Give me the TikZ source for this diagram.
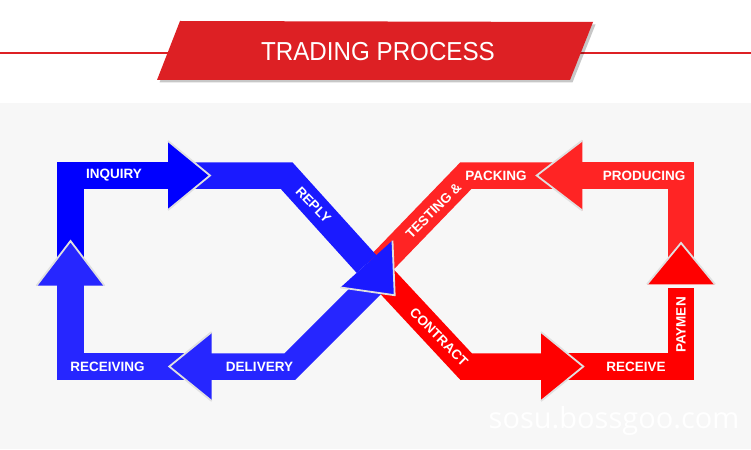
\documentclass[tikz,border=0pt]{standalone}
\usepackage{fontspec}
\setmainfont{Liberation Sans}
\newfontfamily\wmfont{Open Sans}
\usetikzlibrary{calc}
\definecolor{bgray}{RGB}{247,247,247}
\definecolor{titlered}{RGB}{221,32,36}
\definecolor{blueA}{RGB}{0,0,255}
\definecolor{blueB}{RGB}{26,26,255}
\definecolor{blueC}{RGB}{38,38,255}
\definecolor{redA}{RGB}{255,0,0}
\definecolor{redB}{RGB}{255,36,36}
\tikzset{
  band/.style={line width=26.5pt, line join=miter, line cap=butt, draw=#1},
  headedge/.style={draw=white!88!black, line width=1.8pt, line join=miter},
  lbl/.style={text=white, font=\fontsize{13.5}{15}\selectfont\bfseries, inner sep=0pt},
}
\newcommand\myhead[4]{%
  \fill[#4] ($(#1)!#3!90:(#2)$) -- (#2) -- ($(#1)!#3!-90:(#2)$) -- cycle;
  \draw[headedge] ($(#1)!#3!90:(#2)$) -- (#2) -- ($(#1)!#3!-90:(#2)$);
}
\begin{document}
\begin{tikzpicture}[x=1pt,y=-1pt]
\useasboundingbox (0,0) rectangle (751,449);
\fill[white] (0,0) rectangle (751,103);
\fill[bgray] (0,103) rectangle (751,449);
% title
\draw[titlered, line width=2pt] (0,52.7) -- (751,52.7);
\fill[black,opacity=0.22] (182.5,23.5) -- (595.5,24.5) -- (572.5,82.5) -- (159.5,82.5) -- cycle;
\fill[titlered] (180,21) -- (593,22) -- (570,80) -- (157,80) -- cycle;
\node[text=white, font=\fontsize{26}{30}\selectfont, anchor=base, inner sep=0pt] (title) at (378,61) {\scalebox{0.93}[1]{TRADING PROCESS}};
% key points
\coordinate (cRep) at (366.5,264);
\coordinate (tRep) at (394.7,295.2);
\coordinate (bInq) at (168,175.5);
\coordinate (tInq) at (210,175.5);
\coordinate (bDel) at (211.7,366.5);
\coordinate (tDel) at (169.3,366.5);
\coordinate (bRcv) at (70.5,285.7);
\coordinate (tRcv) at (70.5,241);
\coordinate (bPro) at (582.3,175.5);
\coordinate (tPro) at (536.7,175.5);
\coordinate (bPay) at (681,284.3);
\coordinate (tPay) at (681,243);
\coordinate (bCon) at (541,366.5);
\coordinate (tCon) at (583.3,366.5);
% red bands
\draw[band=redB] (558,175.5) -- (466,175.5) -- (375.7,269);
\draw[band=redA] (377.3,271.2) -- (466,366.5) -- (545,366.5);
\draw[band=redA] (562,366.5) -- (681,366.5) -- (681,288);
\draw[band=redB] (681,265) -- (681,175.5) -- (578,175.5);
% blue bands
\draw[band=blueA] (70.5,268) -- (70.5,175.5) -- (172,175.5);
\draw[band=blueB] (188,175.5) -- (286.5,175.5) -- (cRep);
\draw[band=blueC] (376.5,280) -- (290,366.5) -- (208,366.5);
\draw[band=blueC] (190,366.5) -- (70.5,366.5) -- (70.5,282);
% heads
\myhead{bRcv}{tRcv}{34pt}{blueC}
\myhead{bInq}{tInq}{34.5pt}{blueA}
\myhead{bDel}{tDel}{34.5pt}{blueC}
\myhead{bPro}{tPro}{35pt}{redB}
\myhead{bPay}{tPay}{34pt}{redA}
\myhead{bCon}{tCon}{34.5pt}{redA}
\myhead{cRep}{tRep}{35pt}{blueB}
% labels
\node[lbl] (inquiry) at (114,175.5) {INQUIRY};
\node[lbl, rotate=-46] (reply) at (313.5,205) {REPLY};
\node[lbl] (delivery) at (259.5,366.5) {DELIVERY};
\node[lbl] (receiving) at (107.5,366.5) {RECEIVING};
\node[lbl, rotate=45] (testing) at (433.5,210.5) {TESTING \&};
\node[lbl] (packing) at (496,175.5) {PACKING};
\node[lbl] (producing) at (644,175.5) {PRODUCING};
\node[lbl, rotate=-45] (contract) at (439,337) {CONTRACT};
\node[lbl] (receive) at (636,366.5) {RECEIVE};
\node[lbl, rotate=90] (paymen) at (681,325) {PAYMEN};
% watermark
\node[text=white, font=\wmfont\fontsize{29}{32}\selectfont, inner sep=0pt] (wm) at (614,421) {sosu.bossgoo.com};
\end{tikzpicture}
\end{document}
